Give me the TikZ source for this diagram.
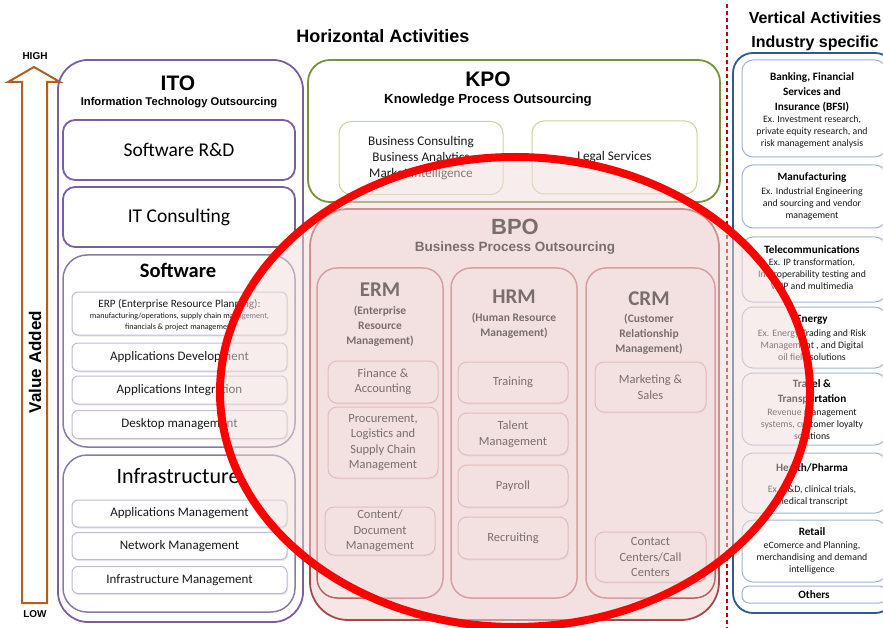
\documentclass[tikz,border=0pt]{standalone}
\usepackage{fontspec}
\setmainfont{Carlito}
\newfontfamily\arialf{Liberation Sans}
\usetikzlibrary{shapes.geometric,shadows}
\newcommand\fsz[2]{\fontsize{#1}{#2}\selectfont}
\definecolor{itop}{HTML}{7B5FA0}
\definecolor{itog}{HTML}{8A7AA6}
\definecolor{itol}{HTML}{C4B8D8}
\definecolor{kpog}{HTML}{77933C}
\definecolor{kpol}{HTML}{C3D69B}
\definecolor{bpor}{HTML}{A34A48}
\definecolor{bpoc}{HTML}{B86462}
\definecolor{bpol}{HTML}{D59A98}
\definecolor{bpofill}{HTML}{F6E6E6}
\definecolor{vblue}{HTML}{2E5A8C}
\definecolor{vlight}{HTML}{9DB5D5}
\definecolor{arrbrown}{HTML}{B0601E}
\definecolor{dashred}{HTML}{C00000}
\definecolor{ovl}{HTML}{F2DCDC}
\definecolor{txt}{HTML}{1A1A1A}
\begin{document}
\begin{tikzpicture}[x=1pt,y=-1pt,
  every node/.style={inner sep=0pt,outer sep=0pt,align=center},
  itobig/.style={draw=itop,line width=1.8pt,rounded corners=12pt,fill=white},
  itogrp/.style={draw=itog,line width=1.5pt,rounded corners=24pt,fill=white},
  itoitem/.style={draw=itol,line width=1pt,rounded corners=6pt,fill=white,
     drop shadow={opacity=0.18,shadow xshift=1pt,shadow yshift=-1.5pt}},
  kpoitem/.style={draw=kpol,line width=1pt,rounded corners=12pt,fill=white},
  bpocol/.style={draw=bpoc,line width=1.5pt,rounded corners=20pt,fill=bpofill},
  bpoitem/.style={draw=bpol,line width=1pt,rounded corners=9pt,fill=bpofill,
     drop shadow={opacity=0.15,shadow xshift=1pt,shadow yshift=-1.5pt}},
  vitem/.style={draw=vlight,line width=1pt,rounded corners=11pt,fill=white},
  ititle/.style={font=\fsz{13}{13},text=txt},
  bitem/.style={font=\fsz{12.5}{15.5},text=black},
  rh/.style={font=\bfseries\fsz{11.2}{15},text=black},
  rb/.style={font=\fsz{9.8}{12},text=txt},
]
\useasboundingbox (0,0) rectangle (883,628);
\fill[white] (0,0) rectangle (883,628);

% ---------- titles ----------
\node[font=\arialf\bfseries\fsz{18}{18}] (horiz) at (383,36) {Horizontal Activities};
\node[font=\arialf\bfseries\fsz{16}{24}] (vert) at (815,31) {Vertical Activities\\Industry specific};

% ---------- value arrow ----------
\coordinate (a1) at (22,603); \coordinate (a2) at (22,82); \coordinate (a3) at (8,82);
\coordinate (a4) at (34,67); \coordinate (a5) at (60,82); \coordinate (a6) at (47,82);
\coordinate (a7) at (47,603);
\draw[arrbrown,line width=2pt,line join=miter] (a1) -- (a2) -- (a3) -- (a4) -- (a5) -- (a6) -- (a7) -- cycle;
\node[font=\arialf\bfseries\fsz{10}{10}] (high) at (35,56) {HIGH};
\node[font=\arialf\bfseries\fsz{10}{10}] (low) at (35,614) {LOW};
\node[font=\arialf\bfseries\fsz{17}{17},rotate=90] (valadd) at (35,362) {Value Added};

% ---------- ITO ----------
\node[draw=itop,line width=1.8pt,rounded corners=30pt,minimum width=245,minimum height=562] (ito) at (180.5,341) {};
\node[font=\arialf\bfseries\fsz{21}{21}] (itot) at (178,83) {ITO};
\node[font=\arialf\bfseries\fsz{11.2}{11}] (itos) at (179,103) {Information Technology Outsourcing};
\node[itobig,minimum width=232,minimum height=60,font=\fsz{19.5}{19}] (srd) at (179,150) {Software R\&D};
\node[itobig,minimum width=232,minimum height=60,font=\fsz{19.5}{19}] (itc) at (179,217) {IT Consulting};
\node[itogrp,minimum width=232,minimum height=192] (sw) at (179,351) {};
\node[font=\bfseries\fsz{20.5}{20}] (swt) at (178,270) {Software};
\node[itoitem,minimum width=215,minimum height=43] (erp) at (179.5,313.5) {};
\node[font=\fsz{11.2}{11},text=txt] (erp1) at (179.5,304) {ERP (Enterprise Resource Planning):};
\node[font=\fsz{8.1}{10.5},text=txt] (erp2) at (179.5,322) {manufacturing/operations, supply chain management,\\financials \& project management};
\node[itoitem,minimum width=215,minimum height=28,ititle] (appdev) at (179.5,357) {Applications Development};
\node[itoitem,minimum width=215,minimum height=28,ititle] (appint) at (179.5,390) {Applications Integration};
\node[itoitem,minimum width=215,minimum height=28,ititle] (desk) at (179.5,424.5) {Desktop management};
\node[itogrp,minimum width=232,minimum height=157] (infra) at (179,533.5) {};
\node[font=\fsz{22}{22}] (infrat) at (178,476) {Infrastructure};
\node[itoitem,minimum width=215,minimum height=27,ititle] (appm) at (179.5,513.5) {Applications Management};
\node[itoitem,minimum width=215,minimum height=27,ititle] (netm) at (179.5,546) {Network Management};
\node[itoitem,minimum width=215,minimum height=27,ititle] (infm) at (179.5,580) {Infrastructure Management};

% ---------- KPO ----------
\node[draw=kpog,line width=1.8pt,rounded corners=22pt,minimum width=412,minimum height=142] (kpo) at (514,131) {};
\node[font=\arialf\bfseries\fsz{21}{21}] (kpot) at (488,79) {KPO};
\node[font=\arialf\bfseries\fsz{13.2}{13}] (kpos) at (488,100) {Knowledge Process Outsourcing};
\node[kpoitem,minimum width=164,minimum height=73,font=\fsz{13.2}{16},text=txt] (bc) at (421,158) {Business Consulting\\Business Analytics\\Market Intelligence};
\node[kpoitem,minimum width=165,minimum height=73,font=\fsz{13.2}{16},text=txt] (legal) at (614.5,157.5) {Legal Services};

% ---------- BPO ----------
\node[draw=bpor,line width=1.8pt,rounded corners=38pt,fill=bpofill,minimum width=409,minimum height=411] (bpo) at (514.5,414.5) {};
\node[font=\arialf\bfseries\fsz{22}{22}] (bpot) at (515,227) {BPO};
\node[font=\arialf\bfseries\fsz{13.5}{14}] (bpos) at (515,248) {Business Process Outsourcing};

\node[bpocol,minimum width=126,minimum height=330] (erm) at (380,433) {};
\node[bpocol,minimum width=126,minimum height=330] (hrm) at (514,433) {};
\node[bpocol,minimum width=129,minimum height=330] (crm) at (650.5,433) {};
\node[font=\bfseries\fsz{21}{21}] (ermt) at (380,290) {ERM};
\node[font=\bfseries\fsz{21}{21}] (hrmt) at (514,297) {HRM};
\node[font=\bfseries\fsz{21}{21}] (crmt) at (649,299) {CRM};
\node[font=\bfseries\fsz{11.5}{15}] (erms) at (380,326) {(Enterprise\\Resource\\Management)};
\node[font=\bfseries\fsz{11.5}{15}] (hrms) at (514,325.5) {(Human Resource\\Management)};
\node[font=\bfseries\fsz{11.5}{15}] (crms) at (649,334) {(Customer\\Relationship\\Management)};

\node[bpoitem,minimum width=110,minimum height=42,bitem] (fin) at (383,382) {Finance \&\\Accounting};
\node[bpoitem,minimum width=110,minimum height=71,bitem] (proc) at (383,442.5) {Procurement,\\Logistics and\\Supply Chain\\Management};
\node[bpoitem,minimum width=110,minimum height=48,bitem] (cont) at (380,531) {Content/\\Document\\Management};
\node[bpoitem,minimum width=110,minimum height=41,bitem] (train) at (513,382.5) {Training};
\node[bpoitem,minimum width=110,minimum height=42,bitem] (talent) at (513,434) {Talent\\Management};
\node[bpoitem,minimum width=110,minimum height=42,bitem] (pay) at (513,486) {Payroll};
\node[bpoitem,minimum width=110,minimum height=42,bitem] (recr) at (513,538) {Recruiting};
\node[bpoitem,minimum width=111,minimum height=50,bitem] (mkt) at (650.5,387) {Marketing \&\\Sales};
\node[bpoitem,minimum width=111,minimum height=50,bitem] (cc) at (650.5,557) {Contact\\Centers/Call\\Centers};

% ---------- dashed separator ----------
\coordinate (d1) at (727,4); \coordinate (d2) at (727,628);
\draw[dashred,line width=1.6pt,dash pattern=on 4pt off 3pt] (d1) -- (d2);

% ---------- vertical activities ----------
\node[draw=vblue,line width=1.8pt,rounded corners=20pt,minimum width=162,minimum height=560] (vert box) at (814,333) {};
\node[vitem,minimum width=144,minimum height=97] (bfsi) at (814,108.5) {};
\node[rh] (bfsih) at (812,92) {Banking, Financial\\Services and\\Insurance (BFSI)};
\node[rb] (bfsib) at (812,132) {Ex. Investment research,\\private equity research, and\\risk management analysis};
\node[vitem,minimum width=144,minimum height=63] (manu) at (814,196.5) {};
\node[rh] (manuh) at (812,178) {Manufacturing};
\node[rb] (manub) at (812,204) {Ex. Industrial Engineering\\and sourcing and vendor\\management};
\node[vitem,minimum width=144,minimum height=65] (tel) at (814,269.5) {};
\node[rh] (telh) at (812,250) {Telecommunications};
\node[rb] (telb) at (812,274) {Ex. IP transformation,\\Interoperability testing and\\VoIP and multimedia};
\node[vitem,minimum width=144,minimum height=61] (ene) at (814,337.5) {};
\node[rh] (eneh) at (812,320) {Energy};
\node[rb] (eneb) at (812,345) {Ex. Energy Trading and Risk\\Management , and Digital\\oil field solutions};
\node[vitem,minimum width=144,minimum height=72] (trav) at (814,409) {};
\node[rh] (travh) at (812,391.5) {Travel \&\\Transportation};
\node[rb] (travb) at (812,424) {Revenue management\\systems, customer loyalty\\solutions};
\node[vitem,minimum width=144,minimum height=60] (hea) at (814,483) {};
\node[rh] (heah) at (812,468) {Health/Pharma};
\node[rb] (heab) at (812,496) {Ex. R\&D, clinical trials,\\medical transcript};
\node[vitem,minimum width=144,minimum height=62] (ret) at (814,551) {};
\node[rh] (reth) at (812,532) {Retail};
\node[rb] (retb) at (812,558) {eComerce and Planning,\\merchandising and demand\\intelligence};
\node[vitem,minimum width=144,minimum height=17,rounded corners=7pt,rh] (oth) at (814,594.5) {Others};

% ---------- red ellipse overlay ----------
\node[ellipse,draw=red,line width=8pt,fill=ovl,fill opacity=0.5,minimum width=590,minimum height=470] (focus) at (515,392) {};

\end{tikzpicture}
\end{document}
